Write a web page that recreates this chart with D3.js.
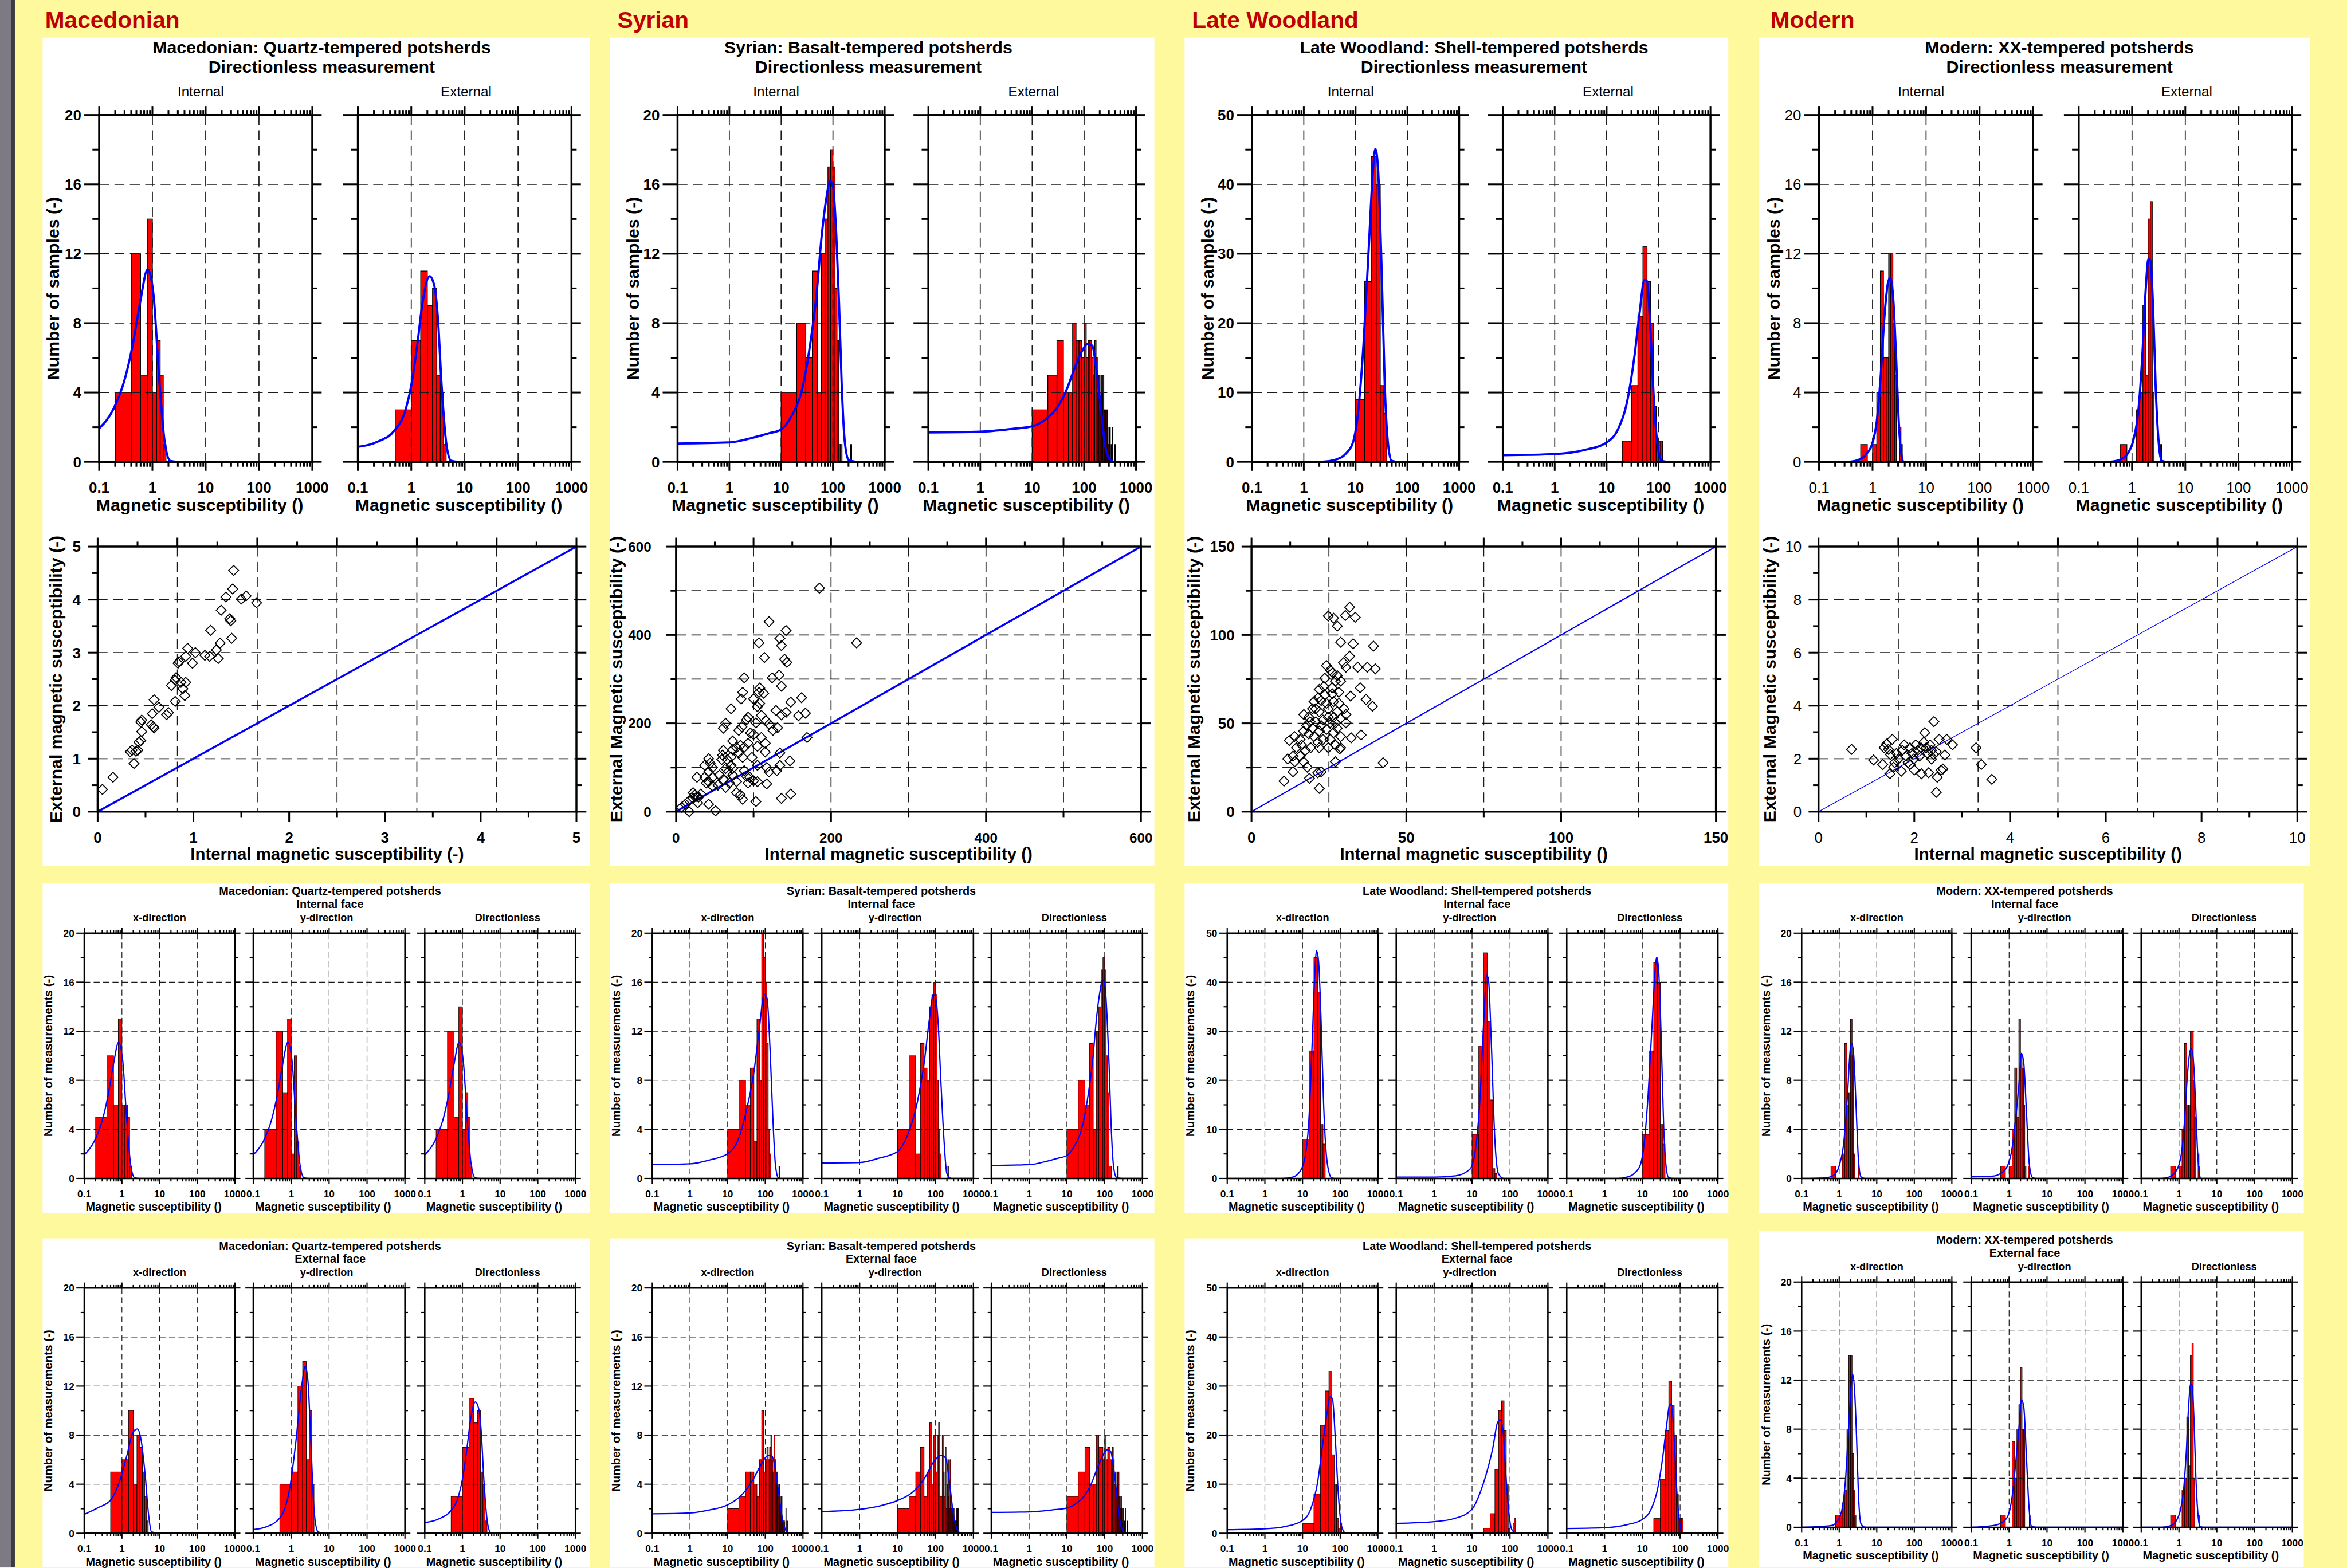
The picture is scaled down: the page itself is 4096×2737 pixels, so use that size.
<!DOCTYPE html>
<html>
<head>
<meta charset="utf-8">
<script src="https://cdn.jsdelivr.net/npm/d3@7"></script>
<style>html,body{margin:0;padding:0;overflow:hidden;background:#fff99e}</style>
</head>
<body>
<script>
'use strict';

// ---------- data ----------
const groups = ['Macedonian', 'Syrian', 'Late Woodland', 'Modern'];
const sherdTitles = ['Macedonian: Quartz-tempered potsherds', 'Syrian: Basalt-tempered potsherds',
	'Late Woodland: Shell-tempered potsherds', 'Modern: XX-tempered potsherds'];
const directions = ['x-direction', 'y-direction', 'Directionless'];
const decadeLabels = ['0.1', '1', '10', '100', '1000'];
const histYMax = [20, 20, 50, 20];

// histogram bins: first bin start, bin width, counts
const macIntX = {start: 0.2, width: 0.2, counts: [5, 10, 6, 13, 6, 6, 5, 1]};
const macIntY = {start: 0.2, width: 0.2, counts: [4, 12, 7, 13, 2, 10, 3, 1]};
const macIntDir = {start: 0.2, width: 0.2, counts: [4, 12, 5, 14, 4, 7, 5, 1]};
const macExtX = {start: 0.5, width: 0.5, counts: [5, 6, 10, 4, 8, 7, 5, 3, 1]};
const macExtY = {start: 0.5, width: 0.5, counts: [4, 5, 12, 14, 6, 10, 4]};
const macExtDir = {start: 0.5, width: 0.5, counts: [3, 7, 11, 9, 10, 5, 4, 1]};

const syrIntX = {start: 10, width: 10, counts: [4, 8, 6, 9, 3, 13, 8, 20, 18, 16, 11, 4, 2, 0, 0, 0, 0, 0, 0, 0, 0, 0, 1]};
const syrIntY = {start: 10, width: 10, counts: [4, 10, 2, 11, 9, 8, 14, 15, 16, 15, 8, 4, 2, 0, 0, 0, 0, 0, 0, 0, 1]};
const syrIntDir = {start: 10, width: 10, counts: [4, 8, 6, 11, 4, 12, 14, 17, 18, 17, 10, 7, 1, 1, 0, 0, 0, 0, 0, 0, 0, 1]};
const syrExtX = {start: 10, width: 10, counts: [2, 3, 5, 5, 4, 3, 6, 10, 5, 6, 7, 6, 7, 8, 6, 5, 8, 6, 4, 5, 4, 3, 4, 3, 2, 3, 3, 1, 1, 1, 0, 1, 0, 0, 2, 0, 1, 1]};
const syrExtY = {start: 10, width: 10, counts: [2, 3, 5, 7, 3, 5, 9, 4, 8, 5, 8, 9, 3, 3, 8, 5, 3, 7, 2, 4, 6, 3, 2, 6, 3, 2, 2, 2, 1, 2, 1, 1, 1, 0, 2, 1, 0, 2, 2]};
const syrExtDir = {start: 10, width: 10, counts: [3, 5, 7, 4, 4, 8, 7, 7, 6, 8, 6, 7, 7, 6, 5, 7, 6, 4, 5, 3, 5, 4, 5, 3, 3, 2, 3, 2, 1, 0, 2, 0, 1, 0, 2, 0, 0, 0, 1]};

const lwIntX = {start: 10, width: 5, counts: [8, 26, 45, 38, 11, 7]};
const lwIntY = {start: 10, width: 5, counts: [9, 27, 46, 32, 16, 2, 1]};
const lwIntDir = {start: 10, width: 5, counts: [9, 26, 44, 40, 11, 7]};
const lwExtX = {start: 10, width: 10, counts: [2, 8, 22, 29, 33, 16, 10, 3, 1, 2]};
const lwExtY = {start: 20, width: 10, counts: [1, 4, 13, 25, 27, 21, 10, 1, 0, 0, 2, 3]};
const lwExtDir = {start: 20, width: 10, counts: [3, 11, 21, 31, 26, 20, 8, 3, 3, 3]};

const modIntX = {start: 0.6, width: 0.2, counts: [1, 0, 0, 2, 11, 6, 7, 13, 10, 2, 0, 0, 0, 1]};
const modIntY = {start: 0.6, width: 0.2, counts: [1, 0, 1, 4, 9, 5, 13, 10, 9, 6, 1, 0, 0, 1]};
const modIntDir = {start: 0.6, width: 0.2, counts: [1, 0, 1, 4, 11, 6, 6, 12, 12, 8, 5, 0, 0, 2, 1]};
const modExtX = {start: 0.8, width: 0.2, counts: [1, 1, 2, 3, 8, 14, 14, 6, 3, 1]};
const modExtY = {start: 0.6, width: 0.2, counts: [1, 0, 0, 7, 4, 8, 10, 13, 8, 8, 0, 0, 0, 0, 1]};
const modExtDir = {start: 0.6, width: 0.2, counts: [1, 0, 0, 3, 4, 9, 5, 14, 15, 4, 0, 0, 0, 0, 1]};

// fitted curves: [susceptibility, count]
const macIntFit = [[0.1, 1.93], [0.186, 3.05], [0.305, 4.8], [0.424, 6.7], [0.588, 9.2], [0.816, 11.1], [1.05, 9.6], [1.34, 4.8], [1.71, 1.1], [2.18, 0.05], [3, 0], [1000, 0]];
const macExtXFit = [[0.1, 1.54], [0.24, 2.1], [0.5, 2.7], [0.86, 4.2], [1.37, 6.4], [1.94, 8.2], [2.55, 8.5], [3.23, 7.6], [4.15, 4.7], [5.1, 1.5], [6.1, 0.1], [9.8, 0], [1000, 0]];
const macExtYFit = [[0.1, 0.3], [0.21, 0.5], [0.52, 1.3], [0.93, 3.8], [1.32, 7.4], [1.86, 11.8], [2.34, 13.6], [2.75, 12.5], [3.31, 7.4], [3.98, 2], [5.0, 0.15], [6.6, 0], [1000, 0]];
const macExtDirFit = [[0.1, 0.87], [0.25, 1.2], [0.48, 1.8], [0.79, 3.05], [1.0, 4.4], [1.29, 6.7], [1.63, 9.2], [2.2, 10.7], [2.68, 10.2], [3.15, 8.3], [3.7, 4.4], [4.6, 0.9], [5.6, 0.06], [7.8, 0], [1000, 0]];

const syrIntXFit = [[0.1, 1.12], [1, 1.19], [3.1, 1.48], [9.8, 2.0], [19.8, 3.3], [31, 5.45], [50, 8.7], [70, 12.3], [93, 15.0], [111, 14.7], [134, 10.5], [158, 5.1], [186, 1.1], [223, 0.04], [260, 0], [1000, 0]];
const syrIntYFit = [[0.1, 1.26], [1, 1.3], [3.3, 1.66], [10, 2.2], [19.9, 3.83], [33, 6.2], [50, 9.4], [69, 13.0], [87, 15.0], [100, 14.8], [117, 12.7], [138, 8.0], [166, 3.3], [199, 0.4], [263, 0], [1000, 0]];
const syrIntDirFit = [[0.1, 1.06], [1, 1.12], [2.98, 1.41], [5.86, 1.65], [9.75, 1.85], [16, 2.67], [24.5, 4.0], [34.4, 6.3], [48, 9.6], [61, 13.1], [74.6, 15.2], [88.5, 16.2], [101, 15.8], [116, 13.1], [131, 9.2], [148, 4.4], [170, 1.12], [201, 0.12], [282, 0], [1000, 0]];
const syrExtXFit = [[0.1, 1.59], [1, 1.66], [3.1, 1.88], [9.8, 2.3], [25, 3.2], [50, 4.5], [80, 5.7], [120, 6.35], [150, 6.3], [181, 5.4], [224, 3.4], [283, 1.23], [357, 0.2], [450, 0], [1000, 0]];
const syrExtYFit = [[0.1, 1.77], [1, 1.95], [4.2, 2.3], [10, 2.67], [26, 3.4], [52, 4.5], [93, 5.9], [147, 6.35], [186, 6.1], [234, 4.1], [295, 1.6], [371, 0.3], [467, 0], [1000, 0]];
const syrExtDirFit = [[0.1, 1.7], [1, 1.74], [4.05, 1.9], [9.9, 2.05], [18.4, 2.47], [30.6, 3.15], [46.6, 4.2], [65.4, 5.4], [91.6, 6.4], [117, 6.8], [143, 6.7], [178, 5.0], [211, 3.05], [250, 1.12], [296, 0.25], [383, 0], [1000, 0]];

const lwIntXFit = [[0.1, 0], [2.8, 0], [5.5, 0.27], [8.5, 1.4], [11.8, 4.6], [14.7, 11.8], [18.3, 29], [21.1, 41.6], [23.5, 46.4], [26.6, 44.3], [30.9, 32.6], [36.5, 14.5], [45.9, 2.8], [59.4, 0.1], [80, 0], [1000, 0]];
const lwIntYFit = [[0.1, 0.27], [1, 0.27], [3.7, 0.54], [8.8, 1.9], [12.1, 5.5], [15.9, 15.4], [20.8, 33.5], [24.1, 41.4], [26.9, 40.7], [32, 28.1], [39.7, 8.2], [49.3, 1.0], [68, 0], [1000, 0]];
const lwIntDirFit = [[0.1, 0], [2.16, 0], [4.04, 0.3], [6.5, 1.2], [8.9, 2.8], [11.2, 7.2], [14.2, 16.9], [18.1, 31.3], [21.9, 42.5], [24.1, 45.1], [27, 42.5], [31.5, 28.9], [36.8, 10.4], [42.6, 2.4], [49.7, 0.16], [68.8, 0], [1000, 0]];
const lwExtXFit = [[0.1, 0.72], [0.97, 0.9], [3.6, 1.4], [10, 2.6], [16.4, 4.9], [25, 10.3], [34.6, 18.4], [46, 25.2], [53.6, 27.8], [62.2, 27.4], [74, 19.3], [88, 8.5], [110, 1.26], [143, 0], [1000, 0]];
const lwExtYFit = [[0.1, 2.0], [1, 2.35], [3.7, 3.07], [10, 4.9], [16.7, 8.5], [25.6, 13], [35.5, 17.5], [46.6, 22.5], [55, 23.1], [65.1, 21.1], [79, 11.2], [94, 4.0], [111, 0.8], [145, 0], [1000, 0]];
const lwExtDirFit = [[0.1, 0.96], [1, 1.12], [4.1, 1.77], [10, 2.8], [16.8, 4.8], [25, 8.8], [34.3, 15.2], [43.5, 21.7], [53.3, 26.2], [59.4, 26.1], [69.5, 19.3], [81.5, 8.8], [95.6, 2.4], [115, 0.16], [151, 0], [1000, 0]];

const modIntXFit = [[0.1, 0], [0.4, 0.04], [0.72, 0.27], [1.03, 1.17], [1.31, 2.8], [1.67, 6.9], [1.97, 10.5], [2.16, 11.0], [2.44, 10], [2.8, 6.0], [3.25, 1.53], [3.8, 0.13], [4.9, 0], [1000, 0]];
const modIntYFit = [[0.1, 0.13], [0.35, 0.18], [0.63, 0.45], [0.9, 1.0], [1.19, 2.4], [1.51, 5.1], [1.83, 7.8], [2.1, 10.2], [2.42, 9.5], [2.9, 5.1], [3.4, 1.2], [4.1, 0.1], [5.2, 0], [1000, 0]];
const modIntDirFit = [[0.1, 0], [0.34, 0], [0.56, 0.13], [0.78, 0.48], [1.0, 1.1], [1.19, 2.25], [1.41, 4.8], [1.67, 8.4], [1.97, 10.4], [2.14, 10.6], [2.45, 9.3], [2.75, 6.1], [3.1, 2.25], [3.44, 0.48], [3.8, 0], [1000, 0]];
const modExtXFit = [[0.1, 0], [0.31, 0.06], [0.64, 0.15], [0.86, 0.43], [1.17, 1.36], [1.48, 4.0], [1.79, 8.3], [2.12, 11.8], [2.28, 12.5], [2.57, 11.1], [2.9, 7.3], [3.25, 2.7], [3.8, 0.28], [4.9, 0], [1000, 0]];
const modExtYFit = [[0.1, 0], [0.28, 0.09], [0.56, 0.28], [0.9, 0.84], [1.19, 2.4], [1.51, 5.4], [1.83, 8.2], [2.1, 10.4], [2.42, 9.9], [2.9, 5.4], [3.34, 1.7], [3.9, 0.1], [5.2, 0], [1000, 0]];
const modExtDirFit = [[0.1, 0], [0.36, 0], [0.6, 0.13], [0.83, 0.48], [1.07, 1.3], [1.31, 2.9], [1.56, 6.1], [1.78, 9.6], [2.04, 11.7], [2.22, 11.6], [2.5, 8.7], [2.79, 4.2], [3.2, 0.96], [3.6, 0.06], [4.5, 0], [1000, 0]];

// internal vs external susceptibility pairs
const macPairs = [[0.05, 0.42], [0.16, 0.65], [0.38, 0.91], [0.34, 1.13], [0.36, 1.16], [0.42, 1.16], [0.4, 1.14], [0.43, 1.31], [0.45, 1.34], [0.46, 1.51],
	[0.45, 1.69], [0.46, 1.73], [0.56, 1.64], [0.58, 1.6], [0.59, 1.58], [0.57, 1.85], [0.59, 2.11], [0.64, 1.97], [0.72, 1.83], [0.74, 1.87],
	[0.77, 2.38], [0.81, 2.08], [0.82, 2.53], [0.81, 2.48], [0.84, 2.8], [0.85, 2.83], [0.87, 2.44], [0.89, 2.32], [0.91, 2.19], [0.92, 2.44],
	[0.92, 2.93], [0.94, 3.08], [0.99, 2.8], [1.02, 3.0], [1.12, 2.95], [1.17, 2.93], [1.18, 3.42], [1.24, 3.05], [1.26, 2.89], [1.28, 3.18],
	[1.29, 3.8], [1.34, 4.05], [1.38, 3.64], [1.39, 3.6], [1.4, 3.27], [1.41, 4.2], [1.42, 4.55], [1.5, 4.01], [1.55, 4.07], [1.66, 3.94]];
const syrPairs = [[185, 506], [120, 430], [142, 410], [134, 392], [107, 382], [233, 382], [136, 376], [114, 349], [140, 345], [143, 338],
	[88, 303], [124, 303], [133, 309], [136, 284], [108, 280], [107, 270], [86, 270], [84, 255], [100, 255], [113, 268],
	[162, 258], [148, 248], [71, 233], [105, 238], [108, 245], [129, 229], [136, 219], [142, 225], [167, 223], [158, 217],
	[64, 200], [61, 189], [93, 214], [91, 208], [103, 201], [110, 218], [120, 198], [116, 206], [131, 190], [125, 184],
	[81, 184], [85, 192], [96, 178], [100, 175], [110, 168], [115, 155], [115, 135], [105, 148], [88, 146], [93, 155],
	[83, 150], [78, 145], [73, 140], [81, 133], [71, 124], [61, 139], [60, 128], [66, 118], [59, 118], [73, 160],
	[86, 123], [98, 123], [134, 133], [169, 168], [105, 105], [117, 100], [130, 93], [134, 105], [147, 115], [120, 90],
	[71, 105], [64, 98], [42, 120], [44, 110], [37, 105], [47, 100], [42, 90], [37, 78], [27, 78], [47, 78],
	[42, 68], [39, 65], [56, 83], [61, 73], [64, 55], [78, 43], [83, 38], [86, 28], [93, 65], [100, 70],
	[105, 68], [117, 63], [103, 23], [136, 30], [148, 40], [22, 43], [24, 38], [27, 34], [22, 30], [17, 25],
	[28, 20], [12, 17], [7, 10], [17, 0], [42, 17], [51, 2], [32, 40], [29, 33], [73, 83], [88, 93],
	[91, 80], [69, 65], [78, 68], [95, 78], [47, 58], [54, 60], [66, 88], [73, 98]];
const lwPairs = [[31.7, 115.7], [30.3, 111], [33.5, 110], [24.8, 110.7], [26.5, 109.5], [27.7, 105], [28.8, 95.9], [32.8, 95], [39.4, 93.7], [31.7, 88],
	[29.7, 84.3], [30.5, 81.8], [34.3, 81.8], [37.4, 81.8], [40, 80.8], [24.2, 82.7], [25.4, 80.2], [26.2, 78.6], [27.7, 77], [28.8, 73.9],
	[27.1, 73.9], [23.7, 75.5], [21.9, 69.2], [23.7, 66], [26.1, 66.7], [28.2, 67.6], [32, 65.4], [35.1, 70.1], [37, 63.5], [39.1, 59.7],
	[22.5, 62.9], [20.2, 62.3], [19.7, 58.2], [21.9, 56.6], [24.8, 58.2], [27.7, 56.6], [29.9, 58.2], [28.8, 52.8], [27.1, 50.3], [30.5, 50.3],
	[25.4, 50.3], [23.1, 51.9], [20.8, 50.9], [18.5, 53.5], [16.9, 55], [17.8, 48.7], [19.7, 47.2], [21.9, 45.6], [24.2, 46.5], [26.5, 44.7],
	[28.8, 42.5], [25.4, 40.9], [23.1, 40.9], [21.4, 39.3], [20.2, 42.5], [18.5, 44], [16.8, 45.6], [15.7, 40.9], [13.9, 42.5], [12.2, 40.3],
	[14.5, 36.2], [16.2, 37.7], [17.4, 34.6], [19.1, 36.2], [21.9, 36.2], [24.8, 36.2], [27.1, 37.7], [28.8, 36.2], [32.2, 41.8], [35.4, 43.4],
	[15.7, 31.4], [13.4, 31.4], [11.7, 29.9], [14, 28.3], [16.8, 28.3], [18, 25.2], [13.4, 22.6], [10.5, 17.3], [18.7, 18.9], [21.4, 22],
	[22.5, 22.6], [21.9, 13.2], [27.1, 28.3], [28.5, 35.5], [42.5, 27.7], [24.2, 61.3], [26.5, 62.3], [21.6, 64.5], [23.4, 70.8], [26, 70.1],
	[20.7, 58.2], [22.5, 48.7], [27.7, 47.2], [30.5, 55], [24.8, 53.5], [26.5, 53.5], [18.9, 50.9], [28.2, 61.3]];
const modPairs = [[0.69, 2.35], [1.15, 1.95], [1.34, 1.78], [1.37, 2.41], [1.42, 2.55], [1.46, 2.35], [1.54, 2.73], [1.5, 2.16], [1.49, 1.43], [1.57, 1.68],
	[1.59, 1.85], [1.67, 1.99], [1.75, 2.31], [1.73, 1.53], [1.83, 2.1], [1.87, 1.85], [1.91, 2.41], [1.95, 2.2], [1.99, 1.99], [2.03, 2.52],
	[2.07, 2.31], [2.11, 2.1], [2.0, 1.57], [2.15, 1.43], [2.14, 2.41], [2.2, 2.62], [2.22, 2.98], [2.25, 2.41], [2.28, 2.2], [2.3, 1.47],
	[2.33, 2.52], [2.36, 2.31], [2.4, 2.16], [2.41, 3.4], [2.46, 2.26], [2.48, 1.3], [2.46, 0.73], [2.52, 2.73], [2.56, 1.57], [2.6, 1.61],
	[2.64, 2.14], [2.68, 2.73], [2.8, 2.52], [3.29, 2.41], [3.4, 1.78], [3.62, 1.22], [1.63, 2.2], [1.79, 2.52], [1.91, 1.78], [2.36, 1.99]];

const pairSets = [macPairs, syrPairs, lwPairs, modPairs];
const scatterMax = [5, 600, 150, 10];
const scatterLabelStep = [1, 200, 50, 2];
const scatterGridStep = [1, 100, 25, 2];
const scatterXTitles = ['Internal magnetic susceptibility (-)', 'Internal magnetic susceptibility ()',
	'Internal magnetic susceptibility ()', 'Internal magnetic susceptibility ()'];
const scatterYTitles = ['External magnetic susceptibility (-)', 'External Magnetic susceptibility (-)',
	'External Magnetic susceptibility (-)', 'External Magnetic susceptibility (-)'];

// x, y, directionless for each group
const internalHists = [[macIntX, macIntY, macIntDir], [syrIntX, syrIntY, syrIntDir], [lwIntX, lwIntY, lwIntDir], [modIntX, modIntY, modIntDir]];
const externalHists = [[macExtX, macExtY, macExtDir], [syrExtX, syrExtY, syrExtDir], [lwExtX, lwExtY, lwExtDir], [modExtX, modExtY, modExtDir]];
const internalFits = [[macIntFit, macIntFit, macIntFit], [syrIntXFit, syrIntYFit, syrIntDirFit], [lwIntXFit, lwIntYFit, lwIntDirFit], [modIntXFit, modIntYFit, modIntDirFit]];
const externalFits = [[macExtXFit, macExtYFit, macExtDirFit], [syrExtXFit, syrExtYFit, syrExtDirFit], [lwExtXFit, lwExtYFit, lwExtDirFit], [modExtXFit, modExtYFit, modExtDirFit]];

// ---------- layout (reference pixel space, scaled at the end) ----------
const layout = [
	{head: 91, panel: [86, 1190, 1190], top: [[200, 630], [722, 1153]], title: 649, yt: 107,
		sc: [197, 1163], scYt: 113, scGap: 34, scTf: 30, small: [[170, 474], [511, 817], [857, 1161]], smTitle: 666, smYt: 96, bottom: [2499, 2599]},
	{head: 1246, panel: [1231, 2329, 2329], top: [[1367, 1785], [1873, 2292]], title: 1752, yt: 1277,
		sc: [1364, 2302], scYt: 1243, scGap: 50, scTf: 28, small: [[1316, 1620], [1658, 1964], [2000, 2305]], smTitle: 1778, smYt: 1242, bottom: [2499, 2599]},
	{head: 2405, panel: [2390, 3487, 3487], top: [[2526, 2944], [3032, 3451]], title: 2974, yt: 2437,
		sc: [2525, 3462], scYt: 2409, scGap: 34, scTf: 30, small: [[2476, 2780], [2817, 3123], [3161, 3466]], smTitle: 2980, smYt: 2401, bottom: [2499, 2599]},
	{head: 3572, panel: [3549, 4661, 4648], top: [[3670, 4102], [4194, 4624]], title: 4155, yt: 3579,
		sc: [3669, 4635], scYt: 3571, scGap: 34, scTf: 30, small: [[3635, 3938], [3977, 4283], [4320, 4625]], smTitle: 4085, smYt: 3563, bottom: [2484, 2587]}
];
const labelWeight = ['bold', 'bold', 'bold', 'normal'];
const diagWidth = [4, 4, 2.6, 1.5];

const bigStyle = {bar: 1.5, grid: 2, dash: '20,11', curve: 4.5, axis: 4, tick: 3.5, tl: 30, tr: 19, tx: 18, lg: 36, tf: 30, xl: 62, xt: 99, xtf: 35};
const smallStyle = {bar: 1, grid: 1.4, dash: '12,7', curve: 2.6, axis: 3, tick: 2.5, tl: 16, tr: 11, tx: 11, lg: 20, tf: 20, xl: 38, xt: 65, xtf: 23};

const FONT = 'Liberation Sans, Arial, Helvetica, sans-serif';

const svg = d3.select('body').append('svg').attr('width', 4096).attr('height', 2737);
const root = svg.append('g').attr('transform', 'scale(0.865)');
root.append('rect').attr('width', 4732).attr('height', 3162).attr('fill', '#fff99e');
root.append('rect').attr('width', 22).attr('height', 3162).attr('fill', '#7e7a83');
root.append('rect').attr('x', 22).attr('width', 8).attr('height', 3162).attr('fill', '#3d3a41');

function txt(g, x, y, s, size, o = {}) {
	const t = g.append('text')
		.attr('x', x).attr('y', y)
		.attr('font-family', FONT)
		.attr('font-size', size)
		.attr('font-weight', o.weight || 'bold')
		.attr('text-anchor', o.anchor || 'middle')
		.attr('fill', o.fill || '#000')
		.text(s);
	if (o.rotate) {
		t.attr('transform', `rotate(${o.rotate},${x},${y})`).attr('dominant-baseline', 'central');
	}
	return t;
}

function segments(g, data, f) {
	g.append('g').selectAll('line').data(data).join('line')
		.each(function (d) {
			const [a, b, c, e] = f(d);
			d3.select(this).attr('x1', a).attr('y1', b).attr('x2', c).attr('y2', e);
		});
}

function histPlot(g, xr, yr, ymax, hist, fit, st, showY, weight) {
	const x = d3.scaleLog().domain([0.1, 1000]).range(xr);
	const y = d3.scaleLinear().domain([0, ymax]).range([yr[1], yr[0]]);
	const yMaj = d3.range(0, 6).map(k => k * ymax / 5);
	const yMin = d3.range(0, 5).map(k => (k + 0.5) * ymax / 5);
	const isDecade = v => Math.abs(Math.log10(v) - Math.round(Math.log10(v))) < 1e-9;
	const decades = x.ticks().filter(isDecade);
	const minors = x.ticks().filter(v => !isDecade(v));

	const bins = hist.counts
		.map((c, i) => ({a: hist.start + i * hist.width, b: hist.start + (i + 1) * hist.width, c}))
		.filter(d => d.c > 0);
	g.append('g').selectAll('rect').data(bins).join('rect')
		.attr('x', d => x(d.a))
		.attr('width', d => x(d.b) - x(d.a))
		.attr('y', d => y(d.c))
		.attr('height', d => y(0) - y(d.c))
		.attr('fill', '#ff0000')
		.attr('stroke', '#000')
		.attr('stroke-width', st.bar);

	const grid = g.append('g').attr('stroke', '#1a1a1a').attr('stroke-width', st.grid).attr('stroke-dasharray', st.dash);
	segments(grid, decades.slice(1, -1), d => [x(d), yr[0], x(d), yr[1]]);
	segments(grid, yMaj.slice(1, -1), d => [xr[0], y(d), xr[1], y(d)]);

	const line = d3.line().x(d => x(d[0])).y(d => y(d[1])).curve(d3.curveMonotoneX);
	g.append('path').attr('d', line(fit))
		.attr('fill', 'none').attr('stroke', '#0000ff').attr('stroke-width', st.curve).attr('stroke-linejoin', 'round');

	const ax = g.append('g').attr('stroke', '#000');
	ax.append('path').attr('d', `M${xr[0]},${yr[0]}V${yr[1]}H${xr[1]}V${yr[0]}Z`)
		.attr('fill', 'none').attr('stroke-width', st.axis);
	const tk = ax.append('g').attr('stroke-width', st.tick);
	segments(tk, yMaj, d => [xr[0] - st.tl, y(d), xr[0], y(d)]);
	segments(tk, yMaj, d => [xr[1], y(d), xr[1] + st.tr, y(d)]);
	segments(tk, yMin, d => [xr[0] - st.tl * 0.45, y(d), xr[0], y(d)]);
	segments(tk, yMin, d => [xr[1], y(d), xr[1] + st.tr * 0.55, y(d)]);
	segments(tk, decades, d => [x(d), yr[1], x(d), yr[1] + st.tx]);
	segments(tk, decades, d => [x(d), yr[0] - st.tx, x(d), yr[0]]);
	segments(tk, minors, d => [x(d), yr[1], x(d), yr[1] + st.tx * 0.55]);
	segments(tk, minors, d => [x(d), yr[0] - st.tx * 0.55, x(d), yr[0]]);

	if (showY) {
		yMaj.forEach(v => txt(g, xr[0] - st.lg, y(v) + st.tf * 0.36, String(v), st.tf, {anchor: 'end', weight}));
	}
	decades.forEach((v, i) => txt(g, x(v), yr[1] + st.xl, decadeLabels[i], st.tf, {weight}));
	txt(g, (xr[0] + xr[1]) / 2 - 12, yr[1] + st.xt, 'Magnetic susceptibility ()', st.xtf);
}

function scatterPlot(g, xr, yr, c) {
	const max = scatterMax[c], step = scatterLabelStep[c], hstep = scatterGridStep[c];
	const x = d3.scaleLinear().domain([0, max]).range(xr);
	const y = d3.scaleLinear().domain([0, max]).range([yr[1], yr[0]]);
	const labs = d3.range(0, Math.round(max / step) + 1).map(k => k * step);
	const mins = d3.range(0, Math.round(max / step)).map(k => (k + 0.5) * step);
	const vgrid = d3.range(1, 6).map(k => k * max / 6);
	const hgrid = d3.range(1, Math.round(max / hstep)).map(k => k * hstep);
	const topLong = d3.range(0, 7).map(k => k * max / 6);
	const topShort = d3.range(0, 6).map(k => (k + 0.5) * max / 6);

	const grid = g.append('g').attr('stroke', '#1a1a1a').attr('stroke-width', 2).attr('stroke-dasharray', '20,11');
	segments(grid, vgrid, d => [x(d), yr[0], x(d), yr[1]]);
	segments(grid, hgrid, d => [xr[0], y(d), xr[1], y(d)]);

	g.append('path').attr('d', d3.line().x(d => x(d)).y(d => y(d))([0, max]))
		.attr('stroke', '#0000ff').attr('stroke-width', diagWidth[c]).attr('fill', 'none');

	g.append('g').selectAll('path').data(pairSets[c]).join('path')
		.attr('d', d3.symbol(d3.symbolSquare, 200))
		.attr('transform', d => `translate(${x(d[0])},${y(d[1])}) rotate(45)`)
		.attr('fill', 'none').attr('stroke', '#000').attr('stroke-width', 2);

	const ax = g.append('g').attr('stroke', '#000');
	ax.append('path').attr('d', `M${xr[0]},${yr[0]}V${yr[1]}H${xr[1]}V${yr[0]}Z`)
		.attr('fill', 'none').attr('stroke-width', 4);
	const tk = ax.append('g').attr('stroke-width', 3.5);
	segments(tk, labs, d => [x(d), yr[1], x(d), yr[1] + 20]);
	segments(tk, mins, d => [x(d), yr[1], x(d), yr[1] + 11]);
	segments(tk, labs, d => [xr[0] - 20, y(d), xr[0], y(d)]);
	segments(tk, mins, d => [xr[0] - 11, y(d), xr[0], y(d)]);
	segments(tk, labs, d => [xr[1], y(d), xr[1] + 20, y(d)]);
	segments(tk, mins, d => [xr[1], y(d), xr[1] + 11, y(d)]);
	segments(tk, topLong, d => [x(d), yr[0] - 18, x(d), yr[0]]);
	segments(tk, topShort, d => [x(d), yr[0] - 10, x(d), yr[0]]);

	const weight = labelWeight[c];
	const tf = layout[c].scTf;
	labs.forEach(v => txt(g, x(v), yr[1] + 62, String(v), tf, {weight}));
	labs.forEach(v => txt(g, xr[0] - layout[c].scGap, y(v) + tf * 0.36, String(v), tf, {anchor: 'end', weight}));
	txt(g, (xr[0] + xr[1]) / 2 - 20, yr[1] + 97, scatterXTitles[c], 34);
	txt(g, layout[c].scYt, (yr[0] + yr[1]) / 2, scatterYTitles[c], 35, {rotate: -90});
}

groups.forEach((name, c) => {
	const L = layout[c];
	const g = root.append('g');
	const ymax = histYMax[c];

	txt(g, L.head, 57, name, 47, {anchor: 'start', fill: '#c00000'});
	g.append('rect').attr('x', L.panel[0]).attr('y', 76).attr('width', L.panel[1] - L.panel[0]).attr('height', 1747 - 76).attr('fill', '#fff');
	g.append('rect').attr('x', L.panel[0]).attr('y', 1783).attr('width', L.panel[2] - L.panel[0]).attr('height', 2448 - 1783).attr('fill', '#fff');
	g.append('rect').attr('x', L.panel[0]).attr('y', L.bottom[0]).attr('width', L.panel[2] - L.panel[0]).attr('height', 3162 - L.bottom[0]).attr('fill', '#fff');

	// directionless, internal vs external
	txt(g, L.title, 108, sherdTitles[c], 35);
	txt(g, L.title, 147, 'Directionless measurement', 35);
	['Internal', 'External'].forEach((face, k) => {
		const xr = L.top[k];
		const hists = k ? externalHists[c] : internalHists[c];
		const fits = k ? externalFits[c] : internalFits[c];
		txt(g, (xr[0] + xr[1]) / 2 + (k ? 3 : -10), 194, face, 28, {weight: 'normal'});
		histPlot(g.append('g'), xr, [232, 932], ymax, hists[2], fits[2], bigStyle, k === 0, labelWeight[c]);
	});
	txt(g, L.yt, 582, 'Number of samples (-)', 35, {rotate: -90});

	scatterPlot(g.append('g'), L.sc, [1103, 1638], c);

	// per-direction panels
	[
		{face: 'Internal face', top: 1883, hists: internalHists[c], fits: internalFits[c]},
		{face: 'External face', top: L.bottom[1], hists: externalHists[c], fits: externalFits[c]}
	].forEach(p => {
		const yr = [p.top, p.top + 495];
		txt(g, L.smTitle, p.top - 77, sherdTitles[c], 23);
		txt(g, L.smTitle, p.top - 51, p.face, 23);
		L.small.forEach((xr, k) => {
			txt(g, (xr[0] + xr[1]) / 2 + [0, -5, 15][k], p.top - 24, directions[k], 21);
			histPlot(g.append('g'), xr, yr, ymax, p.hists[k], p.fits[k], smallStyle, k === 0, 'bold');
		});
		txt(g, L.smYt, (yr[0] + yr[1]) / 2, 'Number of measurements (-)', 24, {rotate: -90});
	});
});
</script>
</body>
</html>
